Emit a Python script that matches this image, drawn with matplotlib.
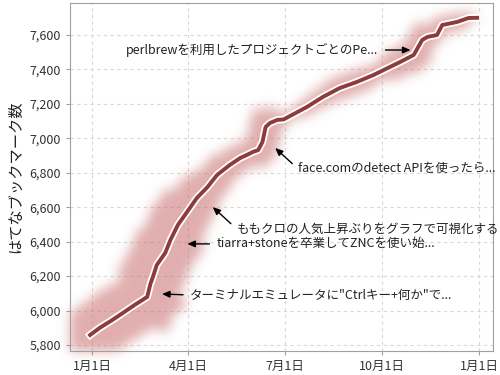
import numpy as np
import pandas as pd
import matplotlib
matplotlib.use("Agg")
import matplotlib.pyplot as plt
import matplotlib.dates as mdates
from matplotlib.collections import LineCollection
from matplotlib.colors import to_rgb
import matplotlib.patheffects as pe

plt.rcParams['font.family'] = ['Noto Sans CJK JP', 'DejaVu Sans']

# はてなブックマーク数の推移
dates = ["2011-12-30", "2012-01-08", "2012-01-20", "2012-01-30", "2012-02-10",
         "2012-02-22", "2012-02-25", "2012-02-28", "2012-03-02", "2012-03-10",
         "2012-03-15", "2012-03-22", "2012-04-01", "2012-04-09", "2012-04-19",
         "2012-04-28", "2012-05-10", "2012-05-20", "2012-05-26", "2012-06-01",
         "2012-06-06", "2012-06-10", "2012-06-13", "2012-06-17", "2012-06-24",
         "2012-06-30", "2012-07-22", "2012-08-06", "2012-08-22", "2012-09-07",
         "2012-09-23", "2012-10-18", "2012-10-31", "2012-11-08", "2012-11-13",
         "2012-11-22", "2012-11-27", "2012-12-11", "2012-12-22", "2012-12-30"]
bookmarks = [5858, 5899, 5945, 5986, 6032, 6079, 6154, 6206, 6264, 6334,
             6410, 6497, 6584, 6654, 6717, 6787, 6845, 6886, 6903, 6921,
             6932, 6979, 7066, 7089, 7107, 7110, 7182, 7240, 7292, 7327,
             7368, 7443, 7484, 7571, 7589, 7600, 7658, 7676, 7699, 7700]
# 注目度 (ぼかしの強さ)
buzz = [1.0, 1.0, 0.9, 0.6, 1.0, 1.0, 1.0, 1.0, 1.0, 1.0,
        1.0, 0.9, 0.7, 0.65, 0.55, 0.55, 0.45, 0.45, 0.45, 0.45,
        0.45, 0.55, 0.55, 0.35, 0.1, 0.05, 0.3, 0.25, 0.4, 0.4,
        0.15, 0.5, 0.5, 0.45, 0.3, 0.1, 0.3, 0.3, 0.05, 0.05]

# 注釈 (矢印の先と記事タイトル)
note_dates = ["2012-10-28", "2012-06-22", "2012-04-24", "2012-03-31", "2012-03-07"]
note_values = [7513, 6944, 6601, 6387, 6096]
note_titles = ["perlbrewを利用したプロジェクトごとのPe...",
               "face.comのdetect APIを使ったら...",
               "ももクロの人気上昇ぶりをグラフで可視化する",
               "tiarra+stoneを卒業してZNCを使い始...",
               "ターミナルエミュレータに\"Ctrlキー+何か\"で..."]

glow_rgb = np.array(to_rgb('#c86c6c'))


def _box(a, r, axis):
    # 一次元の移動平均 (ぼかし用)
    k = 2 * r + 1
    padw = [(0, 0)] * a.ndim
    padw[axis] = (r + 1, r)
    c = np.cumsum(np.pad(a, padw), axis=axis)
    n = c.shape[axis]
    return (np.take(c, range(k, n), axis=axis) - np.take(c, range(0, n - k), axis=axis)) / k


def blur(im, dpi, r=5, pad=24):
    alpha = np.pad(im[..., 3], pad)
    for _ in range(3):
        alpha = _box(alpha, r, 0)
        alpha = _box(alpha, r, 1)
    out = np.empty(alpha.shape + (4,))
    out[..., :3] = glow_rgb
    out[..., 3] = alpha * 0.55
    return out, -pad, -pad


x = mdates.date2num(pd.to_datetime(dates))
y = np.array(bookmarks)
w = np.array(buzz)

fig = plt.figure(figsize=(5, 3.75), dpi=100)
ax = fig.add_axes([0.14, 0.064, 0.846, 0.928])

# ぼかし
pts = np.column_stack([x, y]).reshape(-1, 1, 2)
segs = np.concatenate([pts[:-1], pts[1:]], axis=1)
seg_w = (w[:-1] + w[1:]) / 2
lc = LineCollection(segs, linewidths=seg_w * 42, colors='#c86c6c',
                    capstyle='projecting', joinstyle='miter')
lc.set_agg_filter(blur)
lc.set_rasterized(True)
ax.add_collection(lc)

ax.plot(x, y, color='#8e3b3b', lw=2.8, solid_joinstyle='round',
        path_effects=[pe.Stroke(linewidth=5.4, foreground='white'), pe.Normal()],
        zorder=5)

# 注釈
nx = mdates.date2num(pd.to_datetime(note_dates))
offsets = [(-32, 0), (23, -21), (24, -22), (29, 0), (28, -1)]
for i in range(len(note_titles)):
    dx, dy = offsets[i]
    ha = 'right' if dx < 0 else 'left'
    ax.annotate(note_titles[i], xy=(nx[i], note_values[i]),
                xytext=(dx, dy), textcoords='offset pixels',
                ha=ha, va='center', fontsize=9, color='#222222', zorder=6,
                arrowprops=dict(arrowstyle='-|>,head_length=0.5,head_width=0.22',
                                color='black', lw=1,
                                relpos=(1 if ha == 'right' else 0, 0.5),
                                shrinkA=3, shrinkB=0))

ax.set_xlim(mdates.date2num(pd.Timestamp("2011-12-11")),
            mdates.date2num(pd.Timestamp("2013-01-14")))
ax.set_ylim(5765, 7786)

ticks = pd.to_datetime(["2012-01-01", "2012-04-01", "2012-07-01", "2012-10-01", "2013-01-01"])
ax.set_xticks(mdates.date2num(ticks))
ax.set_xticklabels([f"{t.month}月{t.day}日" for t in ticks])
ax.set_yticks(np.arange(5800, 7601, 200))
ax.yaxis.set_major_formatter(matplotlib.ticker.FuncFormatter(lambda v, p: f"{v:,.0f}"))

ax.grid(True, color='#d8d8d8', lw=0.8, linestyle=(0, (3, 3)))
ax.set_axisbelow(True)
for s in ax.spines.values():
    s.set_color('#a0a0a0')
ax.tick_params(colors='#a0a0a0', labelcolor='#333333', labelsize=9, length=3)
ax.set_ylabel("はてなブックマーク数", fontsize=11, color='#222222', labelpad=4)

fig.savefig("out.png", dpi=100)
